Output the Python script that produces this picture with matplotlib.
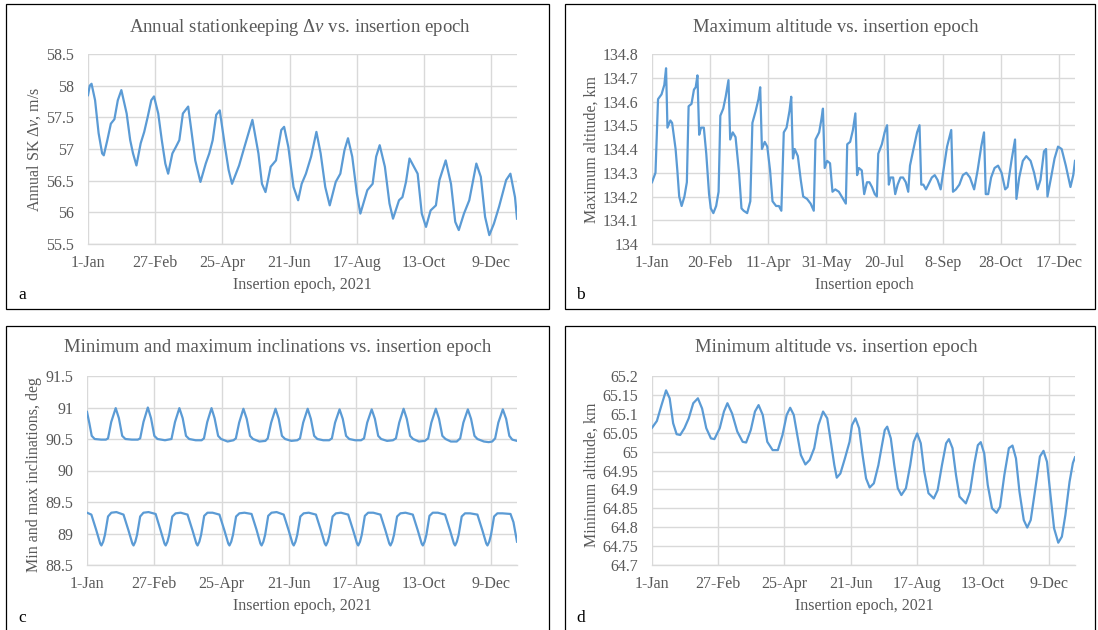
import numpy as np
import matplotlib

matplotlib.use("Agg")
import matplotlib.pyplot as plt
from matplotlib.patches import Rectangle
from matplotlib.ticker import FuncFormatter

plt.rcParams["font.family"] = ["Liberation Serif", "DejaVu Serif"]
plt.rcParams["mathtext.fontset"] = "custom"
plt.rcParams["mathtext.rm"] = "Liberation Serif"
plt.rcParams["mathtext.it"] = "Liberation Serif:italic"

# x axis labels (day of year 2021)
ticks_57 = [0, 57, 114, 171, 228, 285, 342]
labels_57 = ["1-Jan", "27-Feb", "25-Apr", "21-Jun", "17-Aug", "13-Oct", "9-Dec"]
ticks_50 = [0, 50, 100, 150, 200, 250, 300, 350]
labels_50 = ["1-Jan", "20-Feb", "11-Apr", "31-May", "20-Jul", "8-Sep", "28-Oct", "17-Dec"]

# panel a: annual SK delta-v, m/s
dv_day = [0, 1.5, 3, 6, 9, 12, 13.4, 16.4, 19.4, 22.4, 25.3, 28.3, 32.8, 35.8, 38.2, 41.1,
          44.7, 47.7, 50.7, 53.7, 56, 59.6, 62.6, 65.6, 68, 71.6, 74.5, 77.5, 80.5, 85, 88,
          91, 95.4, 99.9, 102.9, 105.8, 108.8, 111.8, 116.3, 119.3, 122.2, 128.2, 132.7,
          139.5, 144.6, 147.6, 150.6, 155, 159.5, 164, 166.4, 170, 174.4, 178.3, 181.3,
          184.9, 189.3, 193.8, 197.4, 201.3, 205.1, 210.2, 214.1, 217.6, 220.6, 224.2,
          228.1, 231.1, 237, 241.5, 244.5, 247.5, 251.9, 255.8, 258.8, 263.9, 266.8, 269.8,
          272.8, 279.7, 283.2, 286.8, 290.7, 295.2, 298.2, 303.5, 308, 311.6, 314.6, 319,
          323.5, 329.5, 333.3, 336.9, 340.5, 344.4, 348.8, 354.8, 358.4, 362.3, 364]
dv_val = [57.85, 58.0, 58.03, 57.77, 57.25, 56.93, 56.9, 57.14, 57.4, 57.47, 57.77, 57.93,
          57.56, 57.14, 56.93, 56.74, 57.09, 57.27, 57.51, 57.77, 57.83, 57.56, 57.14, 56.77,
          56.61, 56.93, 57.03, 57.14, 57.56, 57.67, 57.25, 56.82, 56.48, 56.77, 56.93, 57.14,
          57.54, 57.61, 57.03, 56.67, 56.45, 56.74, 57.03, 57.46, 56.93, 56.45, 56.32, 56.72,
          56.82, 57.30, 57.35, 57.03, 56.40, 56.19, 56.45, 56.61, 56.88, 57.27, 56.93, 56.40,
          56.11, 56.48, 56.61, 56.98, 57.17, 56.88, 56.30, 55.98, 56.35, 56.45, 56.88, 57.06,
          56.72, 56.14, 55.90, 56.19, 56.24, 56.48, 56.85, 56.61, 55.98, 55.77, 56.03, 56.11,
          56.51, 56.82, 56.45, 55.85, 55.72, 55.98, 56.19, 56.77, 56.56, 55.93, 55.64, 55.82,
          56.09, 56.51, 56.61, 56.24, 55.90]

# panel b: maximum altitude, km
hmax_day = [0, 3, 5.2, 8.2, 10.6, 12.1, 13.3, 15.8, 17.3, 20.3, 21.8, 23.4, 25.5, 27.9, 30,
            31.5, 34, 36.1, 37.6, 39.1, 40.6, 42.2, 44.6, 46.7, 49.1, 50.6, 52.8, 55.2, 57.3,
            58.8, 61.3, 63.4, 65.8, 67.3, 69.5, 71.9, 74.9, 77, 78.9, 81.9, 84.6, 86.4, 89.2,
            91.6, 93.1, 94.6, 97, 99.2, 101.6, 103.7, 106.8, 109.2, 111.3, 113.4, 115.8, 118.3,
            119.8, 121.3, 122.8, 125.5, 128, 130.1, 133.4, 136.5, 139.2, 140.7, 143.8, 145.6,
            147.1, 148.6, 150.7, 153.2, 155.3, 157.7, 160.8, 164.4, 166.8, 168, 170.5, 172.9,
            175, 176.5, 178, 180.5, 182.6, 185, 187.1, 189.3, 191.7, 193.5, 194.7, 197.8,
            200.2, 202.3, 203.8, 205.3, 207.5, 209.3, 211.4, 213.8, 216, 218.4, 220.5, 222,
            225, 228.1, 230.2, 231.7, 233.5, 235.7, 237.8, 240.8, 243.3, 245.7, 248.4, 250.8,
            253.9, 257.5, 259, 261.5, 264.5, 267.5, 270.5, 273.6, 277.2, 280.2, 283.3, 285.7,
            287.2, 289.3, 291.8, 294.8, 297.8, 300.8, 303.9, 306, 309.3, 312.4, 313.6, 316,
            319.1, 322.1, 325.8, 328.8, 331.8, 334.3, 337.3, 339.1, 340.3, 343.4, 346.4,
            349.4, 352.5, 356.1, 360.1, 362.5, 364]
hmax_val = [134.26, 134.30, 134.61, 134.63, 134.67, 134.74, 134.49, 134.52, 134.51, 134.40,
            134.31, 134.20, 134.16, 134.20, 134.26, 134.58, 134.59, 134.65, 134.66, 134.71,
            134.46, 134.49, 134.49, 134.38, 134.21, 134.15, 134.13, 134.16, 134.22, 134.54,
            134.57, 134.62, 134.69, 134.44, 134.47, 134.45, 134.30, 134.15, 134.14, 134.13,
            134.18, 134.51, 134.56, 134.61, 134.66, 134.40, 134.43, 134.41, 134.31, 134.18,
            134.16, 134.16, 134.14, 134.47, 134.49, 134.56, 134.62, 134.36, 134.40, 134.37,
            134.27, 134.20, 134.19, 134.17, 134.14, 134.44, 134.47, 134.52, 134.57, 134.32,
            134.35, 134.34, 134.22, 134.23, 134.22, 134.19, 134.17, 134.42, 134.43, 134.48,
            134.55, 134.29, 134.32, 134.31, 134.21, 134.26, 134.26, 134.24, 134.21, 134.20,
            134.38, 134.42, 134.47, 134.50, 134.25, 134.28, 134.28, 134.21, 134.25, 134.28,
            134.28, 134.26, 134.22, 134.33, 134.40, 134.47, 134.50, 134.25, 134.25, 134.23,
            134.25, 134.28, 134.29, 134.27, 134.23, 134.31, 134.41, 134.48, 134.22, 134.23,
            134.25, 134.29, 134.30, 134.28, 134.23, 134.31, 134.41, 134.47, 134.21, 134.21,
            134.28, 134.32, 134.33, 134.30, 134.23, 134.24, 134.35, 134.44, 134.19, 134.28,
            134.35, 134.37, 134.35, 134.30, 134.23, 134.27, 134.39, 134.40, 134.20, 134.28,
            134.36, 134.41, 134.40, 134.33, 134.24, 134.29, 134.35]

# panel c: maximum inclination, deg
imax_day = [0, 2, 4, 6.5, 12, 16, 17.8, 20.5, 24.3, 27, 29.8, 32.5, 38, 43, 45, 47.8, 51.5,
            54.2, 57, 59.7, 66, 71.5, 74.5, 78.2, 81, 83.8, 86.5, 92, 97, 99, 101.8, 105.4,
            108, 111, 113.5, 119, 124, 126, 128.8, 132.4, 135.2, 138, 140.5, 146, 151, 153,
            155.9, 159.6, 162.3, 165, 167.7, 173, 178, 180.3, 183, 186.8, 189.5, 192.3, 195,
            200, 205, 207.3, 210, 213.8, 216.5, 219.3, 222, 227, 232, 234.5, 237.2, 241,
            243.7, 246.5, 249, 254, 259, 261.5, 264.3, 268, 270.7, 273.5, 276, 281, 286,
            288.8, 291.5, 295.3, 298, 300.8, 303.5, 308, 313, 315.9, 318.6, 322.4, 325.1, 328,
            330.5, 336, 340, 343, 345.5, 348.2, 352, 354.8, 357.5, 360, 364]
imax_val = [90.93, 90.75, 90.55, 90.50, 90.49, 90.49, 90.51, 90.77, 90.99, 90.83, 90.55,
            90.50, 90.49, 90.49, 90.51, 90.77, 91.00, 90.83, 90.55, 90.50, 90.48, 90.50,
            90.77, 90.99, 90.83, 90.55, 90.50, 90.48, 90.48, 90.51, 90.77, 90.99, 90.83,
            90.55, 90.50, 90.46, 90.48, 90.51, 90.76, 90.98, 90.82, 90.55, 90.50, 90.46,
            90.47, 90.51, 90.76, 90.98, 90.82, 90.55, 90.50, 90.47, 90.48, 90.51, 90.76,
            90.98, 90.82, 90.55, 90.50, 90.48, 90.48, 90.51, 90.76, 90.97, 90.82, 90.55,
            90.50, 90.48, 90.48, 90.51, 90.76, 90.97, 90.82, 90.55, 90.50, 90.47, 90.48,
            90.51, 90.76, 90.98, 90.82, 90.55, 90.50, 90.46, 90.47, 90.51, 90.76, 90.98,
            90.82, 90.55, 90.50, 90.46, 90.46, 90.51, 90.76, 90.97, 90.82, 90.55, 90.50,
            90.46, 90.45, 90.46, 90.51, 90.76, 90.97, 90.82, 90.55, 90.49, 90.47]

# panel c: minimum inclination, deg
imin_day = [0, 3.7, 7.9, 11.2, 12.2, 13.7, 15.2, 17.8, 20.6, 24.9,
            30.9, 35.1, 38.4, 39.4, 40.9, 42.4, 45.0, 47.8, 52.1,
            58.1, 62.3, 65.6, 66.6, 68.1, 69.6, 72.2, 75.0, 79.3,
            85.1, 89.3, 92.6, 93.6, 95.1, 96.6, 99.2, 102.0, 106.3,
            112.1, 116.3, 119.6, 120.6, 122.1, 123.6, 126.2, 129.0, 133.3,
            139.3, 143.5, 146.8, 147.8, 149.3, 150.8, 153.4, 156.2, 160.5,
            166.5, 170.7, 174.0, 175.0, 176.5, 178.0, 180.6, 183.4, 187.7,
            193.8, 198.0, 201.3, 202.3, 203.8, 205.3, 207.9, 210.7, 215.0,
            221.1, 225.3, 228.6, 229.6, 231.1, 232.6, 235.2, 238.0, 242.3,
            248.4, 252.6, 255.9, 256.9, 258.4, 259.9, 262.5, 265.3, 269.6,
            275.8, 280.0, 283.3, 284.3, 285.8, 287.3, 289.9, 292.7, 297.0,
            303.1, 307.3, 310.6, 311.6, 313.1, 314.6, 317.2, 320.0, 324.3,
            330.5, 334.7, 338.0, 339.0, 340.5, 342.0, 344.6, 347.4, 351.7,
            358.5, 361, 364]
imin_val = [89.33, 89.30, 89.05, 88.84, 88.81, 88.87, 88.98, 89.27, 89.33, 89.34,
            89.30, 89.05, 88.84, 88.81, 88.87, 88.98, 89.27, 89.33, 89.34,
            89.31, 89.05, 88.84, 88.81, 88.87, 88.98, 89.27, 89.32, 89.33,
            89.30, 89.05, 88.84, 88.81, 88.87, 88.98, 89.28, 89.33, 89.33,
            89.30, 89.05, 88.84, 88.81, 88.87, 88.98, 89.27, 89.32, 89.33,
            89.31, 89.06, 88.84, 88.81, 88.87, 88.98, 89.28, 89.33, 89.34,
            89.30, 89.05, 88.84, 88.81, 88.87, 88.98, 89.27, 89.32, 89.33,
            89.30, 89.05, 88.84, 88.81, 88.87, 88.98, 89.27, 89.32, 89.33,
            89.30, 89.05, 88.84, 88.81, 88.87, 88.98, 89.28, 89.33, 89.33,
            89.30, 89.05, 88.84, 88.81, 88.87, 88.98, 89.27, 89.32, 89.33,
            89.30, 89.05, 88.84, 88.81, 88.87, 88.98, 89.28, 89.33, 89.33,
            89.30, 89.05, 88.84, 88.81, 88.87, 88.98, 89.27, 89.32, 89.32,
            89.30, 89.05, 88.84, 88.81, 88.87, 88.98, 89.27, 89.32, 89.32,
            89.31, 89.18, 88.87]

# panel d: minimum altitude, km
hmin_day = [0, 4.2, 8.2, 12.1, 15.2, 18.2, 21.2, 24.3, 27.9, 31.6, 35.5, 39.5, 43.1, 46.7,
            50.7, 53.7, 58.3, 61.9, 64.9, 68.9, 73.4, 78, 81, 85, 88.6, 91.7, 95.3, 99.2,
            103.8, 108.3, 112.3, 115.9, 118.9, 122, 125, 128.1, 132, 135.7, 139.6, 143.2,
            147.2, 150.8, 153.9, 156.9, 159, 162.1, 166, 170, 172.1, 175.1, 178.2, 181.2,
            184.2, 187.3, 190.9, 194.8, 197.9, 200.3, 202.4, 205.5, 208.5, 211.5, 214.6,
            218.5, 222.2, 225.2, 228.2, 231.3, 234.3, 237.9, 242.5, 245.8, 249.5, 253.1,
            255.5, 258.6, 261.6, 264.6, 270.1, 273.7, 277.4, 280.4, 282.9, 285.9, 288.9,
            292.6, 296.5, 299.5, 303.2, 307.1, 310.2, 313.2, 316.2, 319.9, 322.9, 325.9,
            329.9, 333.8, 336.9, 339.9, 342.9, 346, 349.6, 352.7, 355.7, 359.3, 362.2, 364]
hmin_val = [65.063, 65.081, 65.123, 65.162, 65.141, 65.075, 65.046, 65.044, 65.062, 65.088,
            65.128, 65.141, 65.114, 65.062, 65.035, 65.033, 65.062, 65.106, 65.128, 65.101,
            65.053, 65.026, 65.024, 65.057, 65.106, 65.123, 65.097, 65.026, 65.004, 65.004,
            65.044, 65.097, 65.116, 65.097, 65.044, 64.991, 64.966, 64.978, 65.009, 65.070,
            65.106, 65.088, 65.026, 64.964, 64.931, 64.942, 64.982, 65.026, 65.070, 65.088,
            65.062, 64.991, 64.929, 64.905, 64.916, 64.964, 65.017, 65.057, 65.066, 65.035,
            64.964, 64.903, 64.885, 64.903, 64.964, 65.026, 65.048, 65.022, 64.947, 64.890,
            64.876, 64.898, 64.964, 65.022, 65.033, 65.009, 64.938, 64.881, 64.863, 64.894,
            64.969, 65.017, 65.025, 64.995, 64.912, 64.850, 64.838, 64.854, 64.938, 65.009,
            65.016, 64.982, 64.894, 64.819, 64.799, 64.819, 64.903, 64.987, 65.002, 64.973,
            64.885, 64.797, 64.759, 64.775, 64.832, 64.920, 64.970, 64.985]

W, H = 1098, 630
LINE = "#5B9BD5"
GREY = "#595959"
GRID = "#D9D9D9"

fig = plt.figure(figsize=(W / 100, H / 100), dpi=100)


def px_axes(left, right, top, bottom):
    return fig.add_axes([left / W, 1 - bottom / H, (right - left) / W, (bottom - top) / H])


def px_text(x, y, s, **kw):
    fig.text(x / W, 1 - y / H, s, **kw)


def box(left, right, top, bottom):
    fig.patches.append(Rectangle((left / W, 1 - bottom / H), (right - left) / W,
                                 (bottom - top) / H, transform=fig.transFigure,
                                 fill=False, edgecolor="black", linewidth=0.9))


def style(ax, ylo, yhi, ystep, xticks, xlabels):
    ax.set_xlim(0, 364)
    ax.set_ylim(ylo, yhi)
    ax.set_yticks(np.arange(ylo, yhi + ystep / 2, ystep))
    ax.yaxis.set_major_formatter(FuncFormatter(lambda v, p: f"{round(v, 3):g}"))
    ax.set_xticks(xticks)
    ax.set_xticklabels(xlabels)
    ax.grid(True, color=GRID, linewidth=1.0)
    ax.set_axisbelow(True)
    for side in ["top", "right", "left"]:
        ax.spines[side].set_visible(False)
    ax.spines["bottom"].set_color(GRID)
    ax.spines["bottom"].set_linewidth(1.0)
    ax.tick_params(axis="both", length=0, labelsize=11.5, labelcolor=GREY)
    ax.tick_params(axis="x", pad=8)
    ax.tick_params(axis="y", pad=10)


TITLE_FS = 13.5

# panel boxes
box(6, 549, 4, 309)
box(565, 1095, 4, 309)
box(6, 549, 326, 640)
box(565, 1095, 326, 640)

# a
ax = px_axes(88, 517, 54, 244)
ax.plot(dv_day, dv_val, color=LINE, linewidth=1.6)
style(ax, 55.5, 58.5, 0.5, ticks_57, labels_57)
px_text(300, 27, "Annual stationkeeping Δ$v$ vs. insertion epoch", ha="center", va="center",
        fontsize=TITLE_FS, color=GREY)
px_text(34, 149, "Annual SK Δ$v$, m/s", ha="center", va="center", rotation=90,
        fontsize=11.5, color=GREY)
px_text(302, 285, "Insertion epoch, 2021", ha="center", va="center", fontsize=11.5, color=GREY)
px_text(18, 295, "a", ha="left", va="center", fontsize=12.5, color="black")

# b
ax = px_axes(652, 1075, 54, 244)
ax.plot(hmax_day, hmax_val, color=LINE, linewidth=1.6)
style(ax, 134.0, 134.8, 0.1, ticks_50, labels_50)
px_text(836, 27, "Maximum altitude vs. insertion epoch", ha="center", va="center",
        fontsize=TITLE_FS, color=GREY)
px_text(592, 149, "Maximum altitude, km", ha="center", va="center", rotation=90,
        fontsize=11.5, color=GREY)
px_text(864, 285, "Insertion epoch", ha="center", va="center", fontsize=11.5, color=GREY)
px_text(576, 295, "b", ha="left", va="center", fontsize=12.5, color="black")

# c
ax = px_axes(87, 517, 376, 565)
ax.plot(imax_day, imax_val, color=LINE, linewidth=1.6)
ax.plot(imin_day, imin_val, color=LINE, linewidth=1.6)
style(ax, 88.5, 91.5, 0.5, ticks_57, labels_57)
px_text(278, 348, "Minimum and maximum inclinations vs. insertion epoch", ha="center",
        va="center", fontsize=TITLE_FS, color=GREY)
px_text(34, 475, "Min and max inclinations, deg", ha="center", va="center", rotation=90,
        fontsize=11.5, color=GREY)
px_text(302, 606, "Insertion epoch, 2021", ha="center", va="center", fontsize=11.5, color=GREY)
px_text(18, 618, "c", ha="left", va="center", fontsize=12.5, color="black")

# d
ax = px_axes(652, 1075, 376, 565)
ax.plot(hmin_day, hmin_val, color=LINE, linewidth=1.6)
style(ax, 64.7, 65.2, 0.05, ticks_57, labels_57)
px_text(836, 348, "Minimum altitude vs. insertion epoch", ha="center", va="center",
        fontsize=TITLE_FS, color=GREY)
px_text(592, 475, "Minimum altitude, km", ha="center", va="center", rotation=90,
        fontsize=11.5, color=GREY)
px_text(864, 606, "Insertion epoch, 2021", ha="center", va="center", fontsize=11.5, color=GREY)
px_text(576, 618, "d", ha="left", va="center", fontsize=12.5, color="black")

fig.savefig("out.png", dpi=100)
